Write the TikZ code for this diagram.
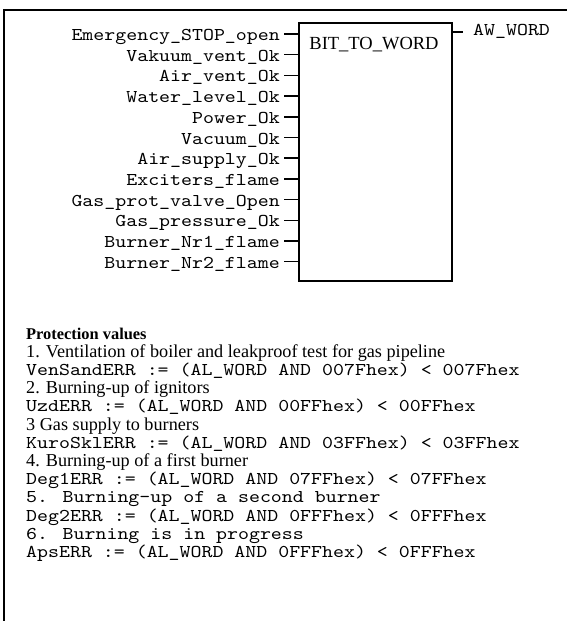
\documentclass[tikz,border=0pt]{standalone}
\usepackage{fontspec}
\setmainfont{Liberation Serif}
\newfontfamily\codefont{lmmono10-regular.otf}[FakeStretch=1.16]

\tikzset{
  frame/.style={line width=2pt},
  pin/.style={line width=1.5pt},
  mono/.style={font=\fontsize{18}{20}\codefont, inner sep=0pt},
  head/.style={font=\fontsize{16.4}{19}\bfseries, inner sep=0pt},
  body/.style={font=\fontsize{18.2}{20}\rmfamily, inner sep=0pt},
  code/.style={mono}
}

\begin{document}
\begin{tikzpicture}[x=1pt,y=-1pt]
  \useasboundingbox (0,0) rectangle (567,621);
  \draw[frame] (567,10) -- (4,10) -- (4,621);
  % function block
  \node[draw, pin, anchor=north west, inner sep=0pt,
        minimum width=153pt, minimum height=258pt] (fb) at (298,22) {};
  \node[font=\fontsize{18.5}{20}\selectfont, anchor=base, inner sep=0pt] (fbname) at (374,49) {BIT\_TO\_WORD};
  \foreach \lbl [count=\i from 0] in {Emergency\_STOP\_open, Vakuum\_vent\_Ok, Air\_vent\_Ok,
      Water\_level\_Ok, Power\_Ok, Vacuum\_Ok, Air\_supply\_Ok, Exciters\_flame,
      Gas\_prot\_valve\_Open, Gas\_pressure\_Ok, Burner\_Nr1\_flame, Burner\_Nr2\_flame}{
    \coordinate (pin\i) at (fb.west |- 0,{34+20.7*\i});
    \node[mono, anchor=base east] (in\i) at (280,{40.5+20.7*\i}) {\lbl};
    \draw[pin] ([xshift=4pt]in\i.east |- pin\i) -- (pin\i);
  }
  \coordinate (pout) at (fb.east |- 0,32);
  \node[mono, anchor=base west] (aw) at (473,35) {AW\_WORD};
  \draw[pin] (pout) -- ([xshift=-10pt]aw.west |- pout);
  % protection values
  \foreach \sty/\txt [count=\i from 0] in {
      head/Protection values,
      body/1. Ventilation of boiler and leakproof test for gas pipeline,
      code/VenSandERR := (AL\_WORD AND 007Fhex) < 007Fhex,
      body/2. Burning-up of ignitors,
      code/UzdERR := (AL\_WORD AND 00FFhex) < 00FFhex,
      body/3 Gas supply to burners,
      code/KuroSklERR := (AL\_WORD AND 03FFhex) < 03FFhex,
      body/4. Burning-up of a first burner,
      code/Deg1ERR := (AL\_WORD AND 07FFhex) < 07FFhex,
      code/5. Burning-up of a second burner,
      code/Deg2ERR := (AL\_WORD AND 0FFFhex) < 0FFFhex,
      code/6. Burning is in progress,
      code/ApsERR := (AL\_WORD AND 0FFFhex) < 0FFFhex}{
    \node[\sty, anchor=base west] (prot\i) at (26,{339+18.2*\i}) {\txt};
  }
\end{tikzpicture}
\end{document}
